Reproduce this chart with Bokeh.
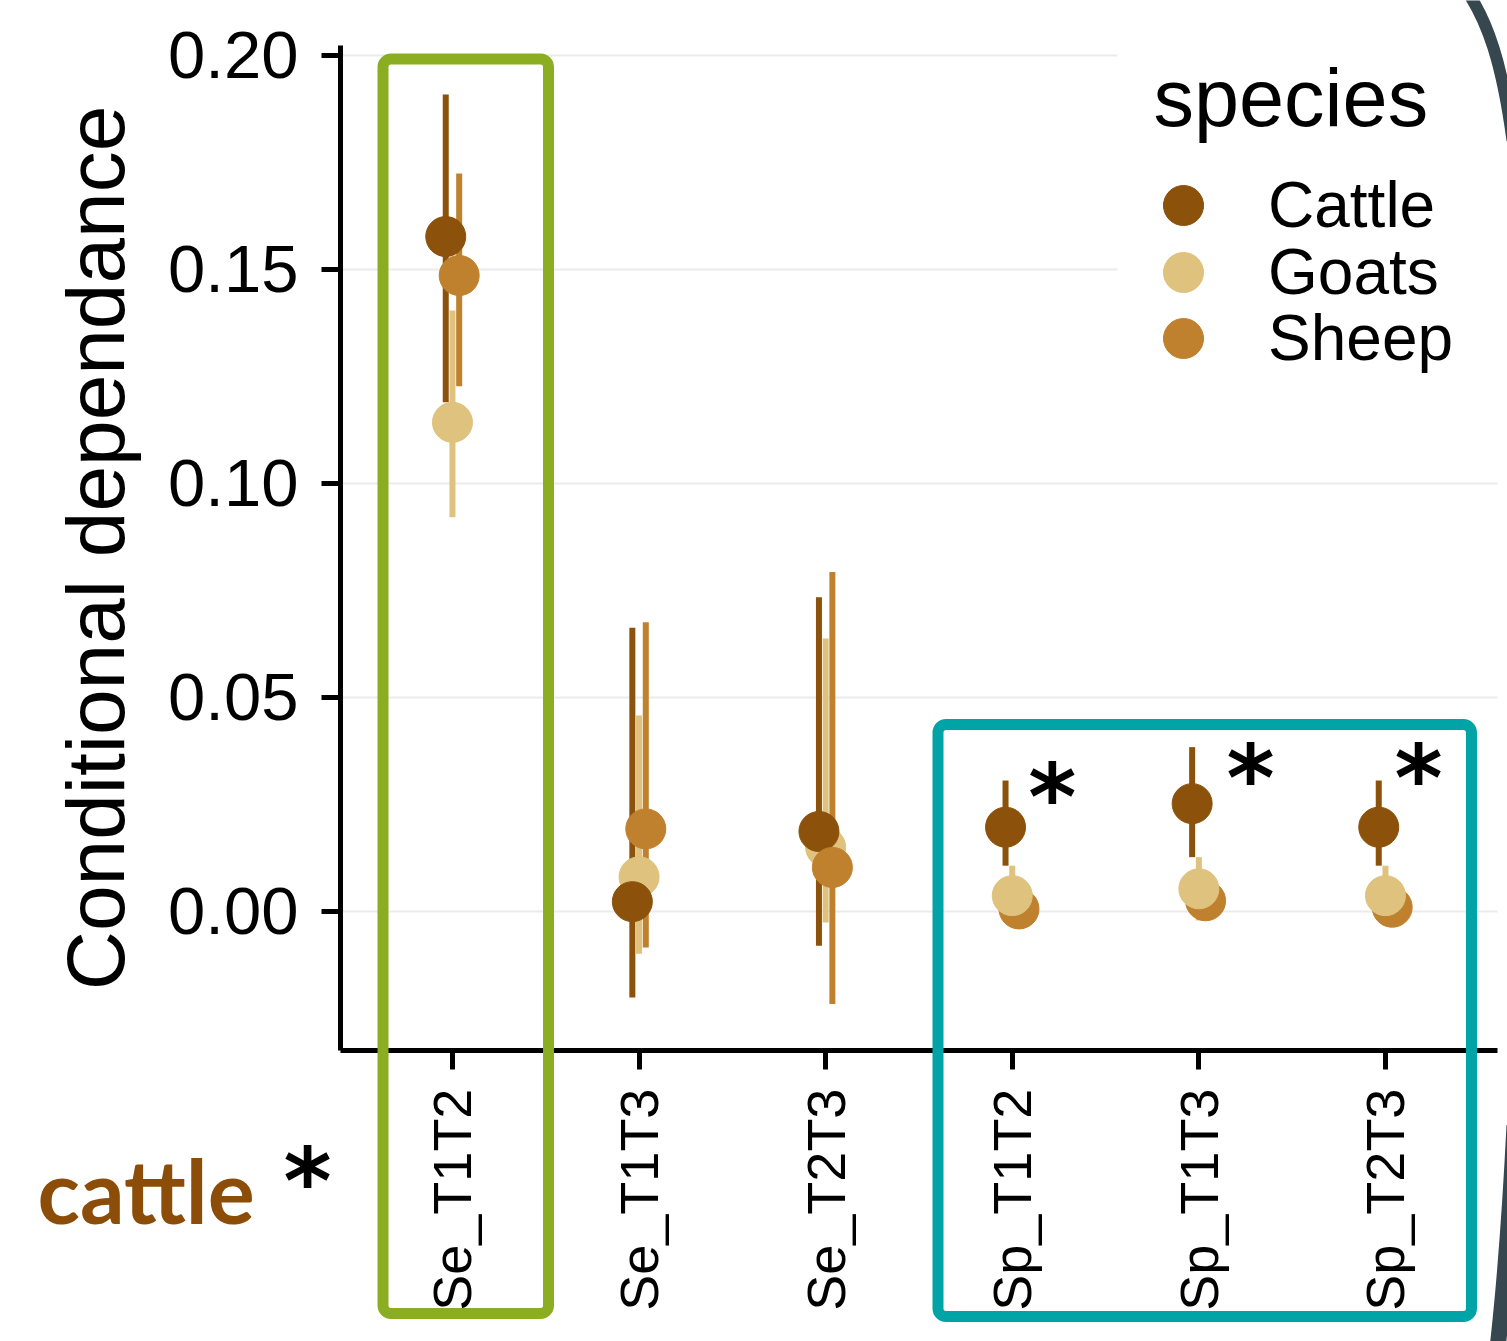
import math
from bokeh.plotting import figure
from bokeh.models import (ColumnDataSource, FixedTicker, Range1d, Legend, LegendItem,
                          Label, BoxAnnotation, PrintfTickFormatter)
from bokeh.embed import file_html
from bokeh.resources import INLINE
from bokeh.core.properties import value

# ---------------- data ----------------
categories = ["Se_T1T2", "Se_T1T3", "Se_T2T3", "Sp_T1T2", "Sp_T1T3", "Sp_T2T3"]
species = ["Cattle", "Goats", "Sheep"]

cattle_est = [0.1577, 0.0023, 0.0187, 0.0197, 0.0252, 0.0197]
cattle_lo = [0.1190, -0.0201, -0.0080, 0.0107, 0.0127, 0.0107]
cattle_hi = [0.1909, 0.0663, 0.0734, 0.0306, 0.0384, 0.0306]

goats_est = [0.1143, 0.0081, 0.0150, 0.0037, 0.0053, 0.0037]
goats_lo = [0.0921, -0.0099, -0.0026, -0.0033, -0.0021, -0.0033]
goats_hi = [0.1404, 0.0458, 0.0638, 0.0107, 0.0127, 0.0107]

sheep_est = [0.1486, 0.0193, 0.0103, 0.0006, 0.0025, 0.0010]
sheep_lo = [0.1227, -0.0084, -0.0216, -0.0024, -0.0005, -0.0020]
sheep_hi = [0.1724, 0.0676, 0.0793, 0.0036, 0.0055, 0.0040]

y_ticks = [0.00, 0.05, 0.10, 0.15, 0.20]

# significance stars next to the Sp comparisons
star_cats = ["Sp_T1T2", "Sp_T1T3", "Sp_T2T3"]
star_dx = [0.215, 0.277, 0.177]
star_y = [0.0264, 0.0308, 0.0308]

# ---------------- styling ----------------
colors = {"Cattle": "#8c510a", "Goats": "#dfc27d", "Sheep": "#bf812d"}
dodge = {"Cattle": -0.036, "Goats": 0.0, "Sheep": 0.036}
est = {"Cattle": cattle_est, "Goats": goats_est, "Sheep": sheep_est}
lo = {"Cattle": cattle_lo, "Goats": goats_lo, "Sheep": sheep_lo}
hi = {"Cattle": cattle_hi, "Goats": goats_hi, "Sheep": sheep_hi}
order_se = ["Goats", "Cattle", "Sheep"]
order_sp = ["Sheep", "Goats", "Cattle"]

rows = dict(x=[], y=[], lo=[], hi=[], color=[], sp=[])
for i, cat in enumerate(categories):
    order = order_se if cat.startswith("Se") else order_sp
    for s in order:
        rows["x"].append(i + 1 + dodge[s])
        rows["y"].append(est[s][i])
        rows["lo"].append(lo[s][i])
        rows["hi"].append(hi[s][i])
        rows["color"].append(colors[s])
        rows["sp"].append(s)
src = ColumnDataSource(rows)

FONT = "Liberation Sans"
W, H = 1507, 1341
X_AX = (0.4, 6.6)          # axis extent (categories 1..6)
Y_AX = (-0.0325, 0.2023)
X_LIM = (-1.4221, 6.6540)
Y_LIM = (-0.10047, 0.21285)


def px_x(px):
    # page pixel -> x data (decorations only)
    return X_LIM[0] + px / W * (X_LIM[1] - X_LIM[0])


def px_y(py):
    return Y_LIM[1] - py / H * (Y_LIM[1] - Y_LIM[0])


p = figure(width=W, height=H,
           x_range=Range1d(*X_LIM), y_range=Range1d(*Y_LIM),
           output_backend="svg", toolbar_location=None, min_border=0)
p.outline_line_color = None
p.background_fill_color = "white"
p.border_fill_color = "white"
p.xgrid.visible = False
p.ygrid.ticker = FixedTicker(ticks=y_ticks)
p.ygrid.grid_line_color = "#ebebeb"
p.ygrid.grid_line_width = 2
try:
    p.ygrid.cross_bounds = X_AX
except Exception:
    pass

for ax in (p.xaxis[0], p.yaxis[0]):
    ax.axis_line_width = 5
    ax.axis_line_color = "black"
    ax.major_tick_line_width = 5
    ax.major_tick_line_color = "black"
    ax.major_tick_out = 19
    ax.major_tick_in = 0
    ax.minor_tick_out = 0
    ax.minor_tick_in = 0
    ax.major_label_text_font = FONT
    ax.major_label_text_color = "black"

p.yaxis.fixed_location = X_AX[0]
p.yaxis.bounds = Y_AX
p.yaxis.ticker = FixedTicker(ticks=y_ticks)
p.yaxis.formatter = PrintfTickFormatter(format="%.2f")
p.yaxis.major_label_text_font_size = "67px"
p.yaxis.major_label_standoff = 23
p.yaxis.axis_label = "Conditional dependance"
p.yaxis.axis_label_text_font = FONT
p.yaxis.axis_label_text_font_size = "82px"
p.yaxis.axis_label_text_font_style = "normal"
p.yaxis.axis_label_text_color = "black"
p.yaxis.axis_label_standoff = 24

p.xaxis.fixed_location = Y_AX[0]
p.xaxis.bounds = X_AX
p.xaxis.ticker = FixedTicker(ticks=list(range(1, len(categories) + 1)))
p.xaxis.major_label_overrides = {i + 1: c for i, c in enumerate(categories)}
p.xaxis.major_label_text_font_size = "54px"
p.xaxis.major_label_orientation = math.pi / 2
p.xaxis.major_label_standoff = 19

# white area behind the legend (drawn under glyphs, over the grid)
p.add_layout(BoxAnnotation(left=4.564, bottom=0.1493, fill_color="white",
                           fill_alpha=1.0, line_color=None, level="underlay"))

# error bars, then points
p.segment(x0="x", y0="lo", x1="x", y1="hi", source=src, line_color="color", line_width=6)
dash_r = p.scatter(x="x", y="y", source=src, marker="dash", angle=math.pi / 2, size=20,
                   line_color="color", line_width=6, fill_color=None)
pt_r = p.scatter(x="x", y="y", source=src, size=40, fill_color="color", line_color="color",
                 line_width=1)

# stars
star_x = [categories.index(c) + 1 + d for c, d in zip(star_cats, star_dx)]
p.text(x=star_x, y=star_y, text=["*"] * len(star_x), text_font=value("DejaVu Sans"),
       text_font_style="bold", text_font_size="92px", text_align="center",
       text_baseline="middle", text_color="black")

# slide frame edge on the right (decoration)
p.bezier(x0=[px_x(1470), px_x(1514)], y0=[px_y(-4), px_y(1125)],
         x1=[px_x(1512), px_x(1497)], y1=[px_y(140), px_y(1348)],
         cx0=[px_x(1486), px_x(1509)], cy0=[px_y(22), px_y(1225)],
         cx1=[px_x(1501), px_x(1503)], cy1=[px_y(58), px_y(1295)],
         line_color="#36474f", line_width=[12, 16])

# highlight boxes
p.add_layout(BoxAnnotation(left=0.6278, right=1.5147, top=0.19918, bottom=-0.09393,
                           fill_alpha=0, line_color="#8bad21", line_alpha=1.0,
                           line_width=11, border_radius=8))
p.add_layout(BoxAnnotation(left=3.602, right=6.461, top=0.04369, bottom=-0.09463,
                           fill_alpha=0, line_color="#00a4a6", line_alpha=1.0,
                           line_width=11, border_radius=8))

# legend title
p.add_layout(Label(x=1153, y=H - 97, x_units="screen", y_units="screen", text="species",
                   text_font=FONT, text_font_size="81px", text_baseline="alphabetic",
                   text_color="black"))

# legend: one entry per species, stacked
legend_centers = [205, 271.5, 338]
for s, cy in zip(species, legend_centers):
    idx = rows["sp"].index(s)
    lg = Legend(items=[LegendItem(label=s, renderers=[dash_r, pt_r], index=idx)],
                location=(1133, H - (cy + 50)), padding=0, margin=0,
                glyph_width=100, glyph_height=100, spacing=0, label_standoff=35,
                label_text_font=FONT, label_text_font_size="64px", label_text_color="black",
                background_fill_alpha=0.0, border_line_color=None)
    p.add_layout(lg)

# "cattle *" note
p.add_layout(Label(x=37, y=H - 1189, x_units="screen", y_units="screen", text="cattle",
                   text_font="Lato", text_font_style="bold", text_font_size="88px",
                   text_color="#8c4d08", text_baseline="alphabetic"))
p.add_layout(Label(x=307, y=H - 1182, x_units="screen", y_units="screen", text="*",
                   text_font="DejaVu Sans", text_font_style="bold", text_font_size="92px",
                   text_color="black", text_align="center", text_baseline="middle"))

open("out.html", "w").write(file_html(p, INLINE))
